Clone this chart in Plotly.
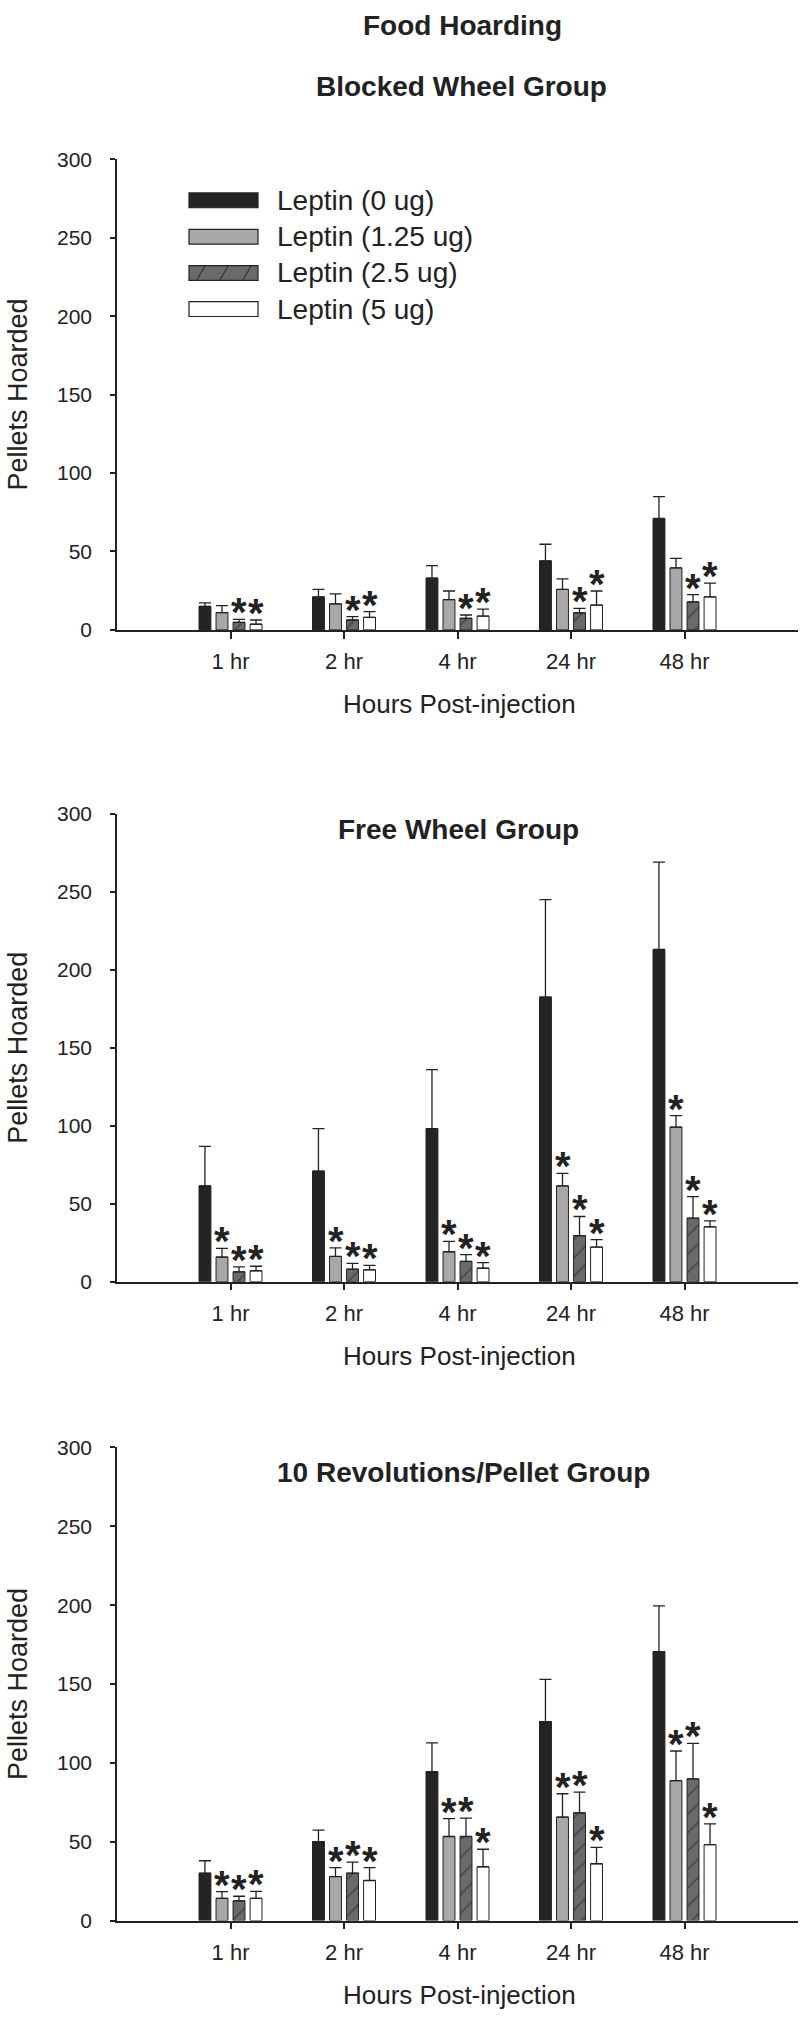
import plotly.graph_objects as go

# ---------------- data ----------------
hours = ["1 hr", "2 hr", "4 hr", "24 hr", "48 hr"]
series_names = ["Leptin (0 ug)", "Leptin (1.25 ug)", "Leptin (2.5 ug)", "Leptin (5 ug)"]
panel_titles = ["Blocked Wheel Group", "Free Wheel Group", "10 Revolutions/Pellet Group"]

# Blocked wheel group
blocked_0 = [15, 21, 33, 44, 71]
blocked_0_err = [2.2, 4.8, 8, 10.6, 14]
blocked_125 = [11, 16.6, 19.3, 25.8, 39.5]
blocked_125_err = [4.5, 6.3, 5.5, 6.7, 6.1]
blocked_25 = [4.8, 6.3, 7.4, 10.9, 17.8]
blocked_25_err = [1.9, 2.1, 2.1, 2.8, 4.7]
blocked_5 = [3.6, 8, 8.8, 15.8, 21]
blocked_5_err = [2.7, 3.6, 4.4, 9, 8.8]
blocked_sig = [[0, 0, 0, 0, 0], [0, 0, 0, 0, 0], [1, 1, 1, 1, 1], [1, 1, 1, 1, 1]]

# Free wheel group
free_0 = [61.4, 70.9, 98.1, 182.5, 213]
free_0_err = [25.3, 27.2, 37.9, 62.5, 56]
free_125 = [15.8, 16.2, 19.2, 61.4, 99.1]
free_125_err = [5.5, 5.5, 6.7, 8, 7.4]
free_25 = [6.3, 8, 13, 29.5, 40.7]
free_25_err = [3.2, 3.8, 4.3, 12.3, 13.9]
free_5 = [7, 7.6, 8.6, 22.2, 35.2]
free_5_err = [2.9, 2.9, 3.6, 4.8, 3.8]
free_sig = [[0, 0, 0, 0, 0], [1, 1, 1, 1, 1], [1, 1, 1, 1, 1], [1, 1, 1, 1, 1]]

# 10 revolutions / pellet group
rev_0 = [30, 50, 94.4, 126.2, 170.6]
rev_0_err = [7.9, 7.3, 18.3, 26.7, 29]
rev_125 = [14.1, 27.9, 53.3, 65.6, 88.7]
rev_125_err = [4.2, 5.6, 11.3, 14.8, 18.8]
rev_25 = [12.5, 30, 53.3, 68.3, 89.8]
rev_25_err = [2.9, 7.1, 11.7, 13.1, 22.5]
rev_5 = [14.1, 25.4, 34.1, 36, 48.1]
rev_5_err = [4.4, 8.1, 11.1, 10.4, 13.2]
rev_sig = [[0, 0, 0, 0, 0], [1, 1, 1, 1, 1], [1, 1, 1, 1, 1], [1, 1, 1, 1, 1]]

y_ticks = [0, 50, 100, 150, 200, 250, 300]

panels = [
    ([blocked_0, blocked_125, blocked_25, blocked_5],
     [blocked_0_err, blocked_125_err, blocked_25_err, blocked_5_err], blocked_sig),
    ([free_0, free_125, free_25, free_5],
     [free_0_err, free_125_err, free_25_err, free_5_err], free_sig),
    ([rev_0, rev_125, rev_25, rev_5],
     [rev_0_err, rev_125_err, rev_25_err, rev_5_err], rev_sig),
]

# ---------------- style ----------------
W, H = 800, 2022
INK = "#222222"
FONT = "Liberation Sans, Arial, Helvetica, sans-serif"
fills = ["#242424", "#a8a8a8", "#6a6a6a", "#ffffff"]
patterns = [None, None, dict(shape="/", fgcolor="#222222", bgcolor="#6a6a6a", size=13, solidity=0.12), None]

def px_x(px):
    return px / W

def px_y(py):
    return 1 - py / H

x_left, x_right = 117, 798
# (pixel y of value 300, pixel y of value 0)
panel_px = [(149, 625), (811, 1284.3), (1452, 1930.5)]
title_px = [(461, 75), (458, 827), (463, 1477)]

fig = go.Figure()
annotations = []
shapes = []
slot_px = 17.0

for p, (means, errs, sig) in enumerate(panels):
    xa = "x" if p == 0 else f"x{p+1}"
    ya = "y" if p == 0 else f"y{p+1}"
    for s in range(4):
        marker = dict(color=fills[s], line=dict(color=INK, width=1))
        if patterns[s] is not None:
            marker["pattern"] = patterns[s]
        fig.add_trace(go.Bar(
            x=hours, y=means[s], name=series_names[s], xaxis=xa, yaxis=ya,
            marker=marker, showlegend=False,
            error_y=dict(type="data", symmetric=False, array=errs[s],
                         arrayminus=[0] * len(hours), color=INK,
                         thickness=1.3, width=6),
        ))
        for i, h in enumerate(hours):
            if sig[s][i]:
                annotations.append(dict(
                    x=h, y=means[s][i] + errs[s][i], xref=xa, yref=ya,
                    text="<b>*</b>", showarrow=False,
                    xshift=(s - 1.5) * slot_px, yshift=7,
                    yanchor="middle", xanchor="center",
                    font=dict(family=FONT, size=40, color=INK),
                ))

    top, bot = panel_px[p]
    axis_common = dict(showline=True, linecolor=INK, linewidth=1.5,
                       ticks="outside", tickcolor=INK, tickwidth=1.5,
                       showgrid=False, zeroline=False,
                       tickfont=dict(family=FONT, size=21, color=INK))
    fig.layout[("xaxis" if p == 0 else f"xaxis{p+1}")] = dict(
        axis_common, domain=[px_x(x_left), px_x(x_right)], anchor=ya,
        type="category", range=[-1, 5], ticklen=7, ticklabelstandoff=4,
        tickfont=dict(family=FONT, size=22, color=INK))
    fig.layout[("yaxis" if p == 0 else f"yaxis{p+1}")] = dict(
        axis_common, domain=[px_y(bot), px_y(top)], anchor=xa,
        range=[0, 300], tickvals=y_ticks, ticklen=5, ticklabelstandoff=14)

    # axis titles
    annotations.append(dict(
        x=px_x(459), y=px_y(bot + 75), xref="paper", yref="paper",
        text="Hours Post-injection", showarrow=False,
        xanchor="center", yanchor="middle",
        font=dict(family=FONT, size=26, color=INK)))
    annotations.append(dict(
        x=px_x(18), y=px_y((top + bot) / 2), xref="paper", yref="paper",
        text="Pellets Hoarded", showarrow=False, textangle=-90,
        xanchor="center", yanchor="middle",
        font=dict(family=FONT, size=27, color=INK)))
    # panel title
    tx, ty = title_px[p]
    annotations.append(dict(
        x=px_x(tx), y=px_y(ty), xref="paper", yref="paper",
        text=f"<b>{panel_titles[p]}</b>", showarrow=False,
        xanchor="center", yanchor="middle",
        font=dict(family=FONT, size=28, color=INK)))

# overall title
annotations.append(dict(
    x=px_x(462), y=px_y(14), xref="paper", yref="paper",
    text="<b>Food Hoarding</b>", showarrow=False,
    xanchor="center", yanchor="middle",
    font=dict(family=FONT, size=28, color=INK)))

# manual legend (large swatches as in the original)
leg_x0, leg_x1 = 189, 258
leg_centers = [190.5, 227.3, 264, 300.5]
for s, name in enumerate(series_names):
    cy = leg_centers[s]
    shapes.append(dict(type="rect", xref="paper", yref="paper",
                       x0=px_x(leg_x0), x1=px_x(leg_x1),
                       y0=px_y(cy + 7.5), y1=px_y(cy - 7.5),
                       fillcolor=fills[s], line=dict(color=INK, width=1.2)))
    if patterns[s] is not None:
        for lx in (201, 224, 247):
            shapes.append(dict(type="line", xref="paper", yref="paper",
                               x0=px_x(lx - 4), x1=px_x(lx + 4),
                               y0=px_y(cy + 7), y1=px_y(cy - 7),
                               line=dict(color=INK, width=1)))
    annotations.append(dict(
        x=px_x(275), y=px_y(cy), xref="paper", yref="paper",
        text=name, showarrow=False, xanchor="left", yanchor="middle",
        font=dict(family=FONT, size=28, color=INK)))

fig.update_layout(
    width=W, height=H, margin=dict(l=0, r=0, t=0, b=0),
    paper_bgcolor="white", plot_bgcolor="white",
    barmode="group", bargap=0.4, bargroupgap=0.3,
    annotations=annotations, shapes=shapes, showlegend=False,
    hovermode=False,
)

fig.write_html("out.html", config={"displayModeBar": False},
               post_script="document.body.style.margin='0';")
